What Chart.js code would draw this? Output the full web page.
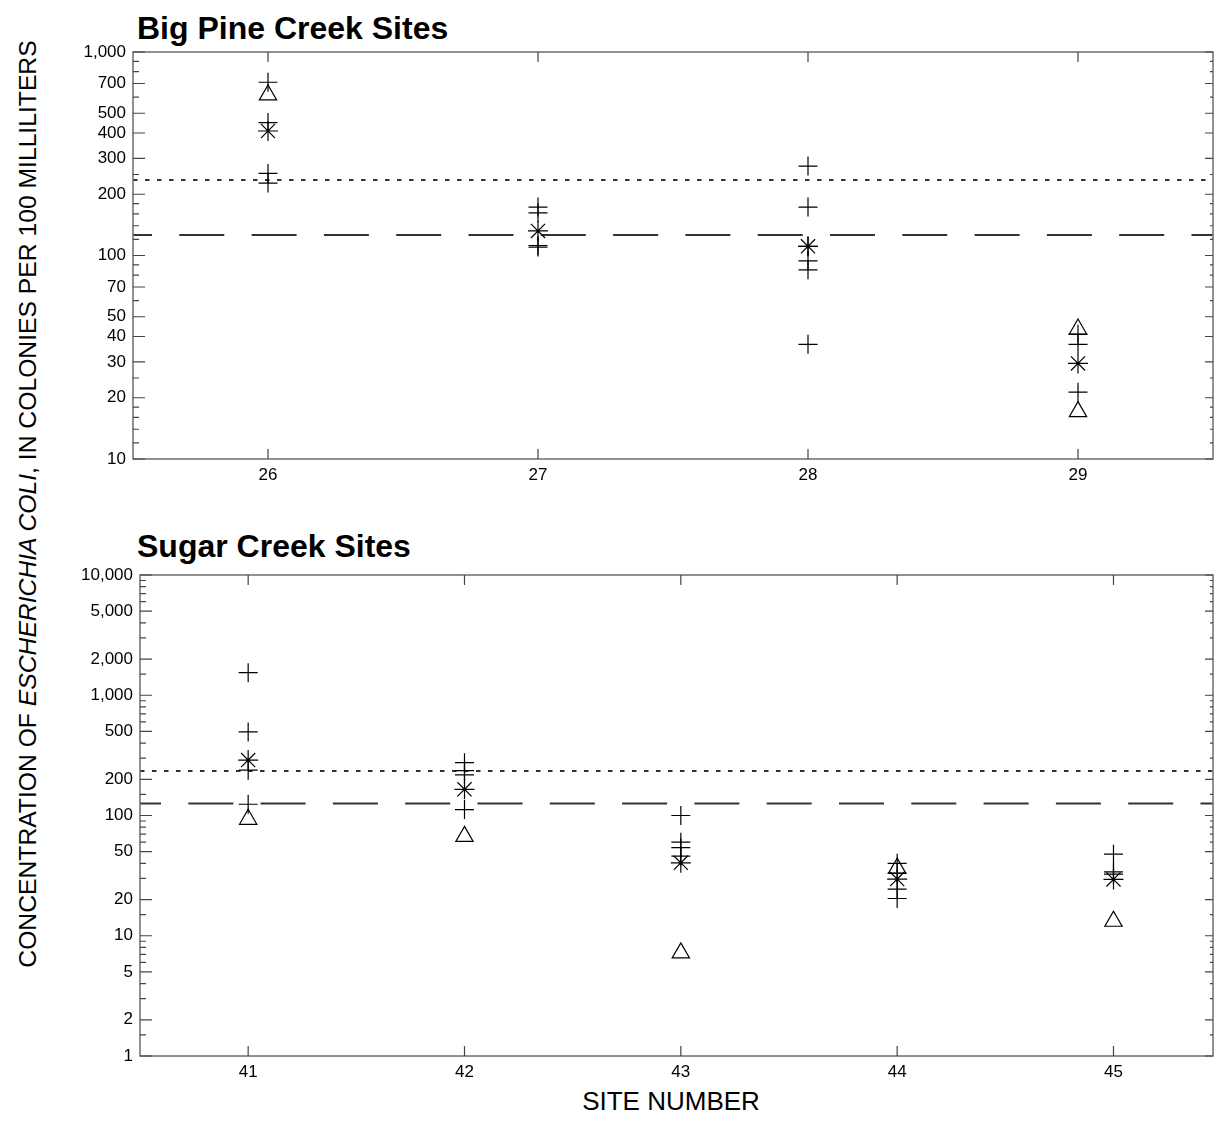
<!DOCTYPE html>
<html>
<head>
<meta charset="utf-8">
<script src="https://cdn.jsdelivr.net/npm/chart.js@4.4.1/dist/chart.umd.min.js"></script>
<style>
  body { margin: 0; background: #fff; width: 1215px; height: 1141px; position: relative; overflow: hidden;
         font-family: "Liberation Sans", Arial, sans-serif; color: #000; }
  canvas { position: absolute; left: 0; }
  #topChart { top: 0; }
  #bottomChart { top: 520px; }
  .panelTitle { position: absolute; left: 137px; font-weight: bold; font-size: 32px; line-height: 36px; white-space: nowrap; }
  #yTitle { position: absolute; left: -472px; top: 489px; width: 1000px; height: 30px; line-height: 30px;
            text-align: center; font-size: 24.7px; transform: rotate(-90deg); white-space: nowrap; }
  #xTitle { position: absolute; left: 471px; width: 400px; top: 1086px; line-height: 30px; text-align: center; font-size: 26px; }
</style>
</head>
<body>
<div class="panelTitle" style="top:10px">Big Pine Creek Sites</div>
<div class="panelTitle" style="top:528px">Sugar Creek Sites</div>
<div id="yTitle">CONCENTRATION OF <i>ESCHERICHIA COLI</i>, IN COLONIES PER 100 MILLILITERS</div>
<div id="xTitle">SITE NUMBER</div>
<canvas id="topChart" width="1215" height="500"></canvas>
<canvas id="bottomChart" width="1215" height="621"></canvas>
<script>
// Big Pine Creek
const topSites = [26, 27, 28, 29];
const topSamples = [
    [710, 450, 253, 227],
    [173, 162, 112, 110],
    [275, 173, 111, 94, 85, 36.6],
    [41, 36.6, 21.3]
];
const topGeoMeans = [409, 132, 111, 29.5];
const topTriangles = [[615], [], [], [43.5, 17.1]];
const topTickLabels = [10, 20, 30, 40, 50, 70, 100, 200, 300, 400, 500, 700, 1000];
const topMinorTicks = [12, 14, 16, 18, 25, 60, 80, 90, 120, 140, 160, 180, 250, 600, 800, 900];

// Sugar Creek
const bottomSites = [41, 42, 43, 44, 45];
const bottomSamples = [
    [1540, 495, 238, 124],
    [275, 236, 218, 112],
    [100, 60, 54, 46],
    [40, 33, 24.4, 20.4],
    [47.7, 34, 32.6]
];
const bottomGeoMeans = [289, 165, 40.4, 29.6, 29.4];
const bottomTriangles = [[93], [67], [7.2], [36.5], [13.2]];
const bottomTickLabels = [1, 2, 5, 10, 20, 50, 100, 200, 500, 1000, 2000, 5000, 10000];
const bottomMinorTicks = [1.5, 3, 4, 6, 7, 8, 9, 15, 30, 40, 60, 70, 80, 90, 150, 300, 400, 600, 700, 800, 900,
                          1500, 3000, 4000, 6000, 7000, 8000, 9000];

// criteria lines
const singleSampleLimit = 235;
const geoMeanLimit = 126;

Chart.defaults.font.family = '"Liberation Sans", Arial, sans-serif';
Chart.defaults.color = '#000';

function pointsFor(sites, lists) {
    const pts = [];
    sites.forEach((s, i) => lists[i].forEach(v => pts.push({ x: s, y: v })));
    return pts;
}

// frame plus inward ticks on all four sides
const boxTicks = {
    id: 'boxTicks',
    afterDraw(chart, args, opts) {
        const { ctx, chartArea: a, scales: { x, y } } = chart;
        ctx.save();
        ctx.strokeStyle = '#6e6e6e';
        ctx.lineWidth = 1.5;
        ctx.strokeRect(a.left, a.top, a.right - a.left, a.bottom - a.top);
        ctx.strokeStyle = '#444';
        ctx.lineWidth = 1.2;
        ctx.beginPath();
        opts.major.forEach(v => {
            const py = y.getPixelForValue(v);
            ctx.moveTo(a.left, py); ctx.lineTo(a.left + 12, py);
            ctx.moveTo(a.right, py); ctx.lineTo(a.right - 8, py);
        });
        opts.minor.forEach(v => {
            const py = y.getPixelForValue(v);
            ctx.moveTo(a.left, py); ctx.lineTo(a.left + 6, py);
            ctx.moveTo(a.right, py); ctx.lineTo(a.right - 3, py);
        });
        opts.sites.forEach(v => {
            const px = x.getPixelForValue(v);
            ctx.moveTo(px, a.bottom); ctx.lineTo(px, a.bottom - 10);
            ctx.moveTo(px, a.top); ctx.lineTo(px, a.top + 10);
        });
        ctx.stroke();
        ctx.restore();
    }
};

function makePanel(id, cfg) {
    const markers = { borderColor: '#000', backgroundColor: 'rgba(0,0,0,0)', pointBorderWidth: 1.2 };
    const ctx = document.getElementById(id).getContext('2d');
    return new Chart(ctx, {
        type: 'scatter',
        data: {
            datasets: [
                Object.assign({ data: pointsFor(cfg.sites, cfg.samples), pointStyle: 'cross', pointRadius: 9.5 }, markers),
                Object.assign({ data: cfg.sites.map((s, i) => ({ x: s, y: cfg.geo[i] })), pointStyle: 'star', pointRadius: 10 }, markers),
                Object.assign({ data: pointsFor(cfg.sites, cfg.tri), pointStyle: 'triangle', pointRadius: 10 }, markers),
                {
                    data: [{ x: cfg.xMin, y: singleSampleLimit }, { x: cfg.xMax, y: singleSampleLimit }],
                    showLine: true, pointRadius: 0, borderColor: '#333', borderWidth: 2, borderDash: [4.5, 7.5]
                },
                {
                    data: [{ x: cfg.xMin, y: geoMeanLimit }, { x: cfg.xMax, y: geoMeanLimit }],
                    showLine: true, pointRadius: 0, borderColor: '#333', borderWidth: 2,
                    borderDash: [45, 27.3], borderDashOffset: cfg.dashOffset
                }
            ]
        },
        options: {
            responsive: false,
            animation: false,
            devicePixelRatio: 1,
            layout: { autoPadding: false, padding: { top: cfg.padTop, right: 2, left: 0, bottom: 0 } },
            plugins: {
                legend: { display: false },
                tooltip: { enabled: false },
                boxTicks: { major: cfg.ticks, minor: cfg.minor, sites: cfg.sites }
            },
            scales: {
                x: {
                    type: 'linear', min: cfg.xMin, max: cfg.xMax,
                    afterBuildTicks: s => { s.ticks = cfg.sites.map(v => ({ value: v })); },
                    afterFit: s => { s.height = cfg.xHeight; },
                    grid: { display: false, drawTicks: false },
                    border: { display: false },
                    ticks: { font: { size: 17 }, padding: 6, callback: v => String(v) }
                },
                y: {
                    type: 'logarithmic', min: cfg.yMin, max: cfg.yMax,
                    afterBuildTicks: s => { s.ticks = cfg.ticks.map(v => ({ value: v })); },
                    afterFit: s => { s.width = cfg.yWidth; },
                    grid: { display: false, drawTicks: false },
                    border: { display: false },
                    ticks: { font: { size: 17 }, padding: 7, callback: v => Number(v).toLocaleString('en-US') }
                }
            }
        },
        plugins: [boxTicks]
    });
}

makePanel('topChart', {
    sites: topSites, samples: topSamples, geo: topGeoMeans, tri: topTriangles,
    ticks: topTickLabels, minor: topMinorTicks,
    xMin: 25.5, xMax: 29.5, yMin: 10, yMax: 1000,
    padTop: 52, xHeight: 41, yWidth: 133, dashOffset: 26
});

makePanel('bottomChart', {
    sites: bottomSites, samples: bottomSamples, geo: bottomGeoMeans, tri: bottomTriangles,
    ticks: bottomTickLabels, minor: bottomMinorTicks,
    xMin: 40.5, xMax: 45.46, yMin: 1, yMax: 10000,
    padTop: 55, xHeight: 85, yWidth: 140, dashOffset: 24
});
</script>
</body>
</html>
